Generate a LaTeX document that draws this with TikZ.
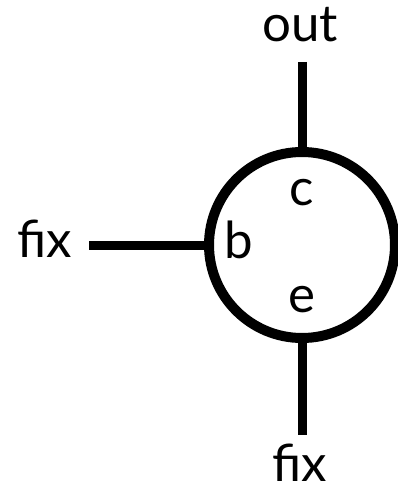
\documentclass[tikz,border=0pt]{standalone}
\usepackage{fontspec}
\setmainfont{Lato}
\begin{document}
\begin{tikzpicture}[x=1pt,y=-1pt,
  lbl/.style={anchor=base,inner sep=0pt,font=\fontsize{51}{55}\selectfont},
  wire/.style={line width=9pt,line cap=butt}]
\useasboundingbox (0,0) rectangle (398,492);
\node[circle,draw,line width=10pt,minimum size=186pt,inner sep=0pt] (circ) at (302,245) {};
\node[lbl] (out) at (300,42) {out};
\node[lbl] (fixl) at (45,257) {fix};
\node[lbl] (fixb) at (300,481) {fix};
\node[lbl] (c) at (302,205) {c};
\node[lbl] (b) at (239,258) {b};
\node[lbl] (e) at (302,312) {e};
\coordinate (topend) at (302,62);
\coordinate (leftend) at (89,245);
\coordinate (botend) at (302,435);
\draw[wire] (topend) -- (circ.north);
\draw[wire] (leftend) -- (circ.west);
\draw[wire] (circ.south) -- (botend);
\end{tikzpicture}
\end{document}
